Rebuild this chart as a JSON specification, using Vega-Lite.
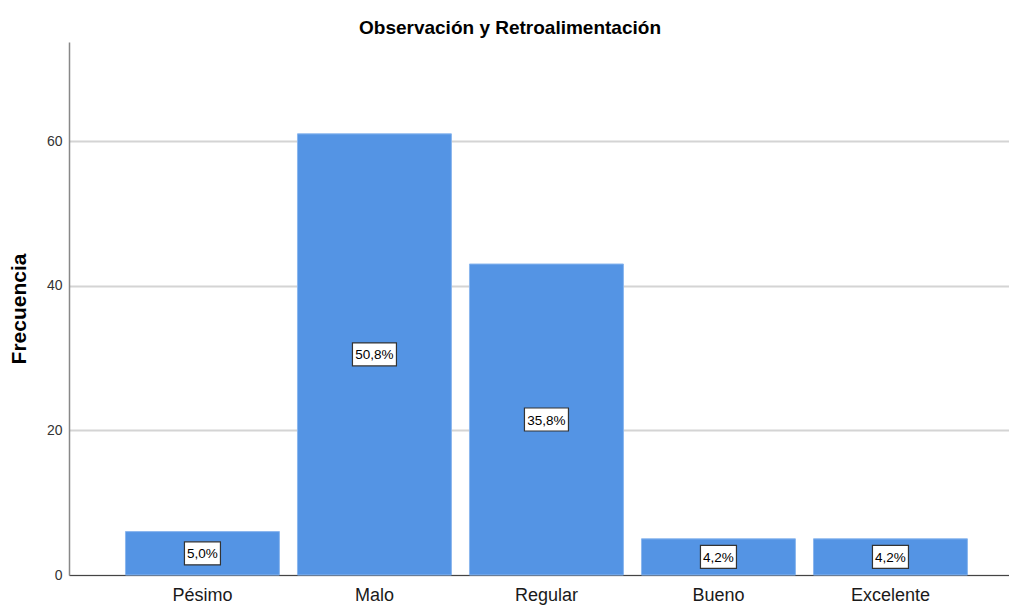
{
  "$schema": "https://vega.github.io/schema/vega-lite/v6.json",
  "autosize": {"type": "none"},
  "padding": {"left": 69, "top": 42, "right": 0, "bottom": 35},
  "width": 940,
  "height": 533,
  "background": "white",
  "title": {
    "text": "Observación y Retroalimentación",
    "font": "Liberation Sans",
    "fontSize": 19,
    "fontWeight": "bold",
    "color": "#000000",
    "anchor": "middle",
    "frame": "group",
    "dx": -29,
    "offset": 4
  },
  "data": {
    "values": [
      {"categoria": "Pésimo", "frecuencia": 6, "etiqueta": "5,0%"},
      {"categoria": "Malo", "frecuencia": 61, "etiqueta": "50,8%"},
      {"categoria": "Regular", "frecuencia": 43, "etiqueta": "35,8%"},
      {"categoria": "Bueno", "frecuencia": 5, "etiqueta": "4,2%"},
      {"categoria": "Excelente", "frecuencia": 5, "etiqueta": "4,2%"}
    ]
  },
  "transform": [{"calculate": "datum.frecuencia / 2", "as": "medio"}],
  "encoding": {
    "x": {
      "field": "categoria",
      "type": "nominal",
      "sort": ["Pésimo", "Malo", "Regular", "Bueno", "Excelente"],
      "scale": {"paddingInner": 0.105, "paddingOuter": 0.285, "align": 0.576},
      "axis": {
        "title": null,
        "labelAngle": 0,
        "labelFont": "Liberation Sans",
        "labelFontSize": 18,
        "labelColor": "#1a1a1a",
        "labelPadding": 11,
        "ticks": false,
        "domainColor": "#444444",
        "domainWidth": 1.2,
        "grid": false
      }
    }
  },
  "layer": [
    {
      "mark": {"type": "bar", "color": "#5494E4", "stroke": "#8ab6ee", "strokeWidth": 1},
      "encoding": {
        "y": {
          "field": "frecuencia",
          "type": "quantitative",
          "scale": {"domain": [0, 73.7], "nice": false},
          "axis": {
            "title": "Frecuencia",
            "titleFont": "Liberation Sans",
            "titleFontSize": 21,
            "titleFontWeight": "bold",
            "titleColor": "#000000",
            "titlePadding": 17,
            "values": [0, 20, 40, 60],
            "labelFont": "Liberation Sans",
            "labelFontSize": 14,
            "labelColor": "#333333",
            "labelPadding": 7,
            "ticks": false,
            "grid": true,
            "gridColor": "#d4d4d4",
            "gridWidth": 2,
            "domainColor": "#888888",
            "domainWidth": 1.5,
            "zindex": 0
          }
        }
      }
    },
    {
      "mark": {"type": "point", "filled": true, "fill": "white", "stroke": "#333333", "strokeWidth": 1.2, "opacity": 1},
      "encoding": {
        "y": {"field": "medio", "type": "quantitative"},
        "shape": {
          "condition": {"test": "datum.frecuencia > 20", "value": "M-1,-0.523H1V0.523H-1Z"},
          "value": "M-1,-0.639H1V0.639H-1Z"
        },
        "size": {
          "condition": {"test": "datum.frecuencia > 20", "value": 1936},
          "value": 1296
        }
      }
    },
    {
      "mark": {"type": "text", "font": "Liberation Sans", "fontSize": 13.5, "color": "#000000", "baseline": "middle", "align": "center", "dy": 1},
      "encoding": {
        "y": {"field": "medio", "type": "quantitative"},
        "text": {"field": "etiqueta"}
      }
    }
  ],
  "config": {"view": {"stroke": null}}
}
